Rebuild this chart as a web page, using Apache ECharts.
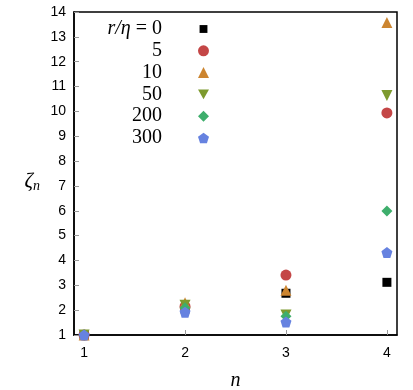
<!DOCTYPE html>
<html>
<head>
<meta charset="utf-8">
<script src="https://cdn.jsdelivr.net/npm/echarts@6/dist/echarts.min.js"></script>
<style>
  html, body { margin: 0; padding: 0; background: #fff; }
  #chart { width: 413px; height: 390px; }
</style>
</head>
<body>
<div id="chart"></div>
<script>
// n values on the x axis
var nValues = [1, 2, 3, 4];
// zeta_n for each r/eta
var zeta0 = [1, 2.05, 2.68, 3.12];
var zeta5 = [1, 2.15, 3.41, 9.94];
var zeta10 = [1, 2.3, 2.8, 13.58];
var zeta50 = [1, 2.2, 1.8, 10.64];
var zeta200 = [1, 2.1, 1.75, 5.99];
var zeta300 = [1, 1.92, 1.52, 4.32];
var legendNames = ['r/η = 0', '5', '10', '50', '200', '300'];
var yTicks = [1, 2, 3, 4, 5, 6, 7, 8, 9, 10, 11, 12, 13, 14];

var pentagon = 'path://M0,-1 L0.951,-0.309 L0.588,0.809 L-0.588,0.809 L-0.951,-0.309 Z';
var downTri = 'path://M-1,-0.9 L1,-0.9 L0,0.9 Z';

function pts(ys) {
  return nValues.map(function (n, i) { return [n, ys[i]]; });
}

var seriesDefs = [
  { name: legendNames[0], data: zeta0, color: '#000000', symbol: 'rect', size: 9 },
  { name: legendNames[1], data: zeta5, color: '#c44646', symbol: 'circle', size: 11 },
  { name: legendNames[2], data: zeta10, color: '#cc8530', symbol: 'triangle', size: 11 },
  { name: legendNames[3], data: zeta50, color: '#7d9a2e', symbol: downTri, size: 11 },
  { name: legendNames[4], data: zeta200, color: '#3eae6c', symbol: 'diamond', size: 11 },
  { name: legendNames[5], data: zeta300, color: '#6682e0', symbol: pentagon, size: 11 }
];

var chart = echarts.init(document.getElementById('chart'));

chart.setOption({
  animation: false,
  grid: {
    left: 74, right: 16, top: 12, bottom: 55,
    outerBoundsMode: 'none',
    containLabel: false,
    show: true, borderColor: '#000', borderWidth: 1.5
  },
  legend: {
    orient: 'vertical',
    left: 92,
    top: 14,
    align: 'right',
    itemWidth: 11,
    itemHeight: 11,
    itemGap: 1.8,
    selectedMode: false,
    data: legendNames.map(function (n, i) {
      // legend square is a little smaller than the other markers
      if (i === 0) return { name: n, icon: 'path://M-1.4,-1.4 L-1.4,-1.4 M1.4,1.4 L1.4,1.4 M-1,-1 L1,-1 L1,1 L-1,1 Z' };
      return n;
    }),
    formatter: function (name) {
      if (name === legendNames[0]) return '{i|r/η}{e|=}0';
      return name;
    },
    textStyle: {
      fontFamily: 'Liberation Serif',
      fontSize: 20,
      color: '#000',
      lineHeight: 20,
      width: 65,
      align: 'right',
      padding: [0, 31, 0, 0],
      rich: {
        i: { fontFamily: 'Liberation Serif', fontStyle: 'italic', fontSize: 20 },
        e: { fontFamily: 'Liberation Serif', fontSize: 20, padding: [0, 5, 0, 5] }
      }
    }
  },
  xAxis: {
    type: 'value',
    min: 0.9,
    max: 4.1,
    name: 'n',
    nameLocation: 'middle',
    nameGap: 36,
    nameTextStyle: { fontFamily: 'Liberation Serif', fontStyle: 'italic', fontSize: 20, color: '#000' },
    splitLine: { show: false },
    axisLine: { lineStyle: { color: '#000', width: 1.5 } },
    axisTick: { inside: true, length: 5, lineStyle: { color: '#999' }, customValues: nValues },
    axisLabel: {
      customValues: nValues,
      margin: 11,
      fontFamily: 'Liberation Sans', fontSize: 14, color: '#000'
    }
  },
  yAxis: {
    type: 'value',
    min: 1,
    max: 14,
    interval: 1,
    name: '{z|ζ}{s|n}',
    nameLocation: 'middle',
    nameRotate: 0,
    nameGap: 34,
    nameTextStyle: {
      padding: [0, 0, -16, 0],
      rich: {
        z: { fontFamily: 'Liberation Serif', fontStyle: 'italic', fontSize: 21, color: '#000' },
        s: { fontFamily: 'Liberation Serif', fontStyle: 'italic', fontSize: 14, color: '#000', padding: [10, 0, 0, 0] }
      }
    },
    splitLine: { show: false },
    axisLine: { lineStyle: { color: '#000', width: 1.5 } },
    axisTick: { inside: true, length: 5, lineStyle: { color: '#999' } },
    axisLabel: {
      customValues: yTicks,
      margin: 8,
      fontFamily: 'Liberation Sans', fontSize: 14, color: '#000'
    }
  },
  series: seriesDefs.map(function (s) {
    return {
      type: 'scatter',
      name: s.name,
      data: pts(s.data),
      symbol: s.symbol,
      symbolSize: s.size,
      itemStyle: { color: s.color, opacity: 1 }
    };
  })
});
</script>
</body>
</html>
